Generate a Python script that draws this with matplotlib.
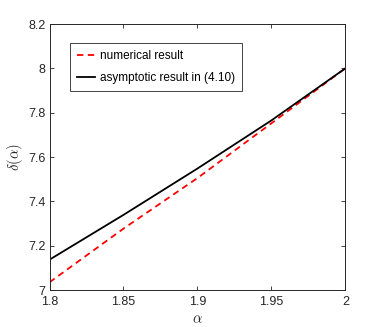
import matplotlib
matplotlib.use("Agg")
import matplotlib.pyplot as plt

plt.rcParams['font.family'] = ['Liberation Sans', 'DejaVu Sans']
plt.rcParams['mathtext.fontset'] = 'cm'

alpha = [1.80, 1.85, 1.90, 1.95, 2.00]
numerical = [7.035, 7.277, 7.505, 7.752, 8.0]
asymptotic = [7.137, 7.339, 7.548, 7.765, 8.0]

xticks = [1.8, 1.85, 1.9, 1.95, 2.0]
xticklabels = ['1.8', '1.85', '1.9', '1.95', '2']
yticks = [7.0, 7.2, 7.4, 7.6, 7.8, 8.0, 8.2]
yticklabels = ['7', '7.2', '7.4', '7.6', '7.8', '8', '8.2']

fig = plt.figure(figsize=(3.82, 3.27), dpi=100)
ax = fig.add_axes([0.1296, 0.113, 0.904 - 0.1296, 0.9266 - 0.113])

ax.plot(alpha, numerical, color='red', linestyle=(0, (3.5, 2.5)), linewidth=1.3,
        label='numerical result')
ax.plot(alpha, asymptotic, color='black', linestyle='-', linewidth=1.3,
        label='asymptotic result in (4.10)')

ax.set_xlim(1.8, 2.0)
ax.set_ylim(7.0, 8.2)
ax.set_xticks(xticks)
ax.set_xticklabels(xticklabels)
ax.set_yticks(yticks)
ax.set_yticklabels(yticklabels)

axcol = '#262626'
for s in ax.spines.values():
    s.set_color(axcol)
    s.set_linewidth(0.7)
ax.tick_params(direction='in', length=3, width=0.6, colors=axcol,
               labelsize=9, top=True, right=True)
ax.tick_params(axis='x', pad=4.5)
ax.tick_params(axis='y', pad=3)

ax.set_xlabel(r'$\alpha$', fontsize=10.5, labelpad=3, color=axcol)
ax.set_ylabel(r'$\delta(\alpha)$', fontsize=10.5, labelpad=2, color=axcol)

leg = ax.legend(loc='upper left', bbox_to_anchor=(0.069, 0.929), borderaxespad=0,
                prop={'size': 8.5}, fancybox=False, framealpha=1, edgecolor=axcol,
                handlelength=1.5, handletextpad=0.45, borderpad=0.6, labelspacing=0.85)
leg.get_frame().set_linewidth(0.6)

fig.savefig('out.png', dpi=100)
